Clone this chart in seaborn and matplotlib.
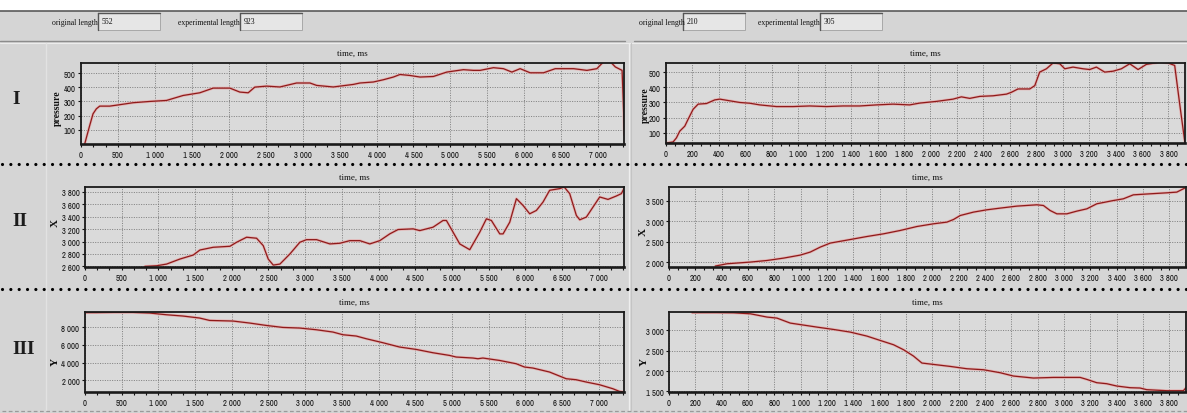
import matplotlib
matplotlib.use("Agg")
import numpy as np
import pandas as pd
import matplotlib.pyplot as plt
import matplotlib.patches as mpatches
import matplotlib.lines as mlines
from matplotlib.ticker import FixedLocator, AutoMinorLocator, FuncFormatter
from matplotlib import font_manager
import seaborn as sns

# ---------------- data ----------------
# row I : pressure, left recording (time in ms)
press_l_t = [50, 81, 118, 163, 208, 253, 389, 524, 705, 931, 1157, 1382, 1608, 1789,
             2015, 2150, 2263, 2353, 2512, 2692, 2918, 3099, 3190, 3415, 3686, 3776,
             3957, 4093, 4228, 4318, 4454, 4589, 4770, 4951, 5176, 5312, 5402, 5583,
             5718, 5832, 5944, 6080, 6261, 6419, 6668, 6848, 6983, 7073, 7165, 7233,
             7324, 7340, 7355]
press_l_v = [0, 60, 131, 213, 248, 267, 267, 277, 291, 300, 307, 342, 361, 394,
             394, 366, 361, 401, 408, 402, 430, 430, 413, 402, 420, 430,
             437, 453, 472, 490, 483, 472, 476, 507, 524, 519, 519, 538,
             531, 507, 531, 502, 502, 531, 531, 519, 531, 580, 580, 543,
             519, 300, 60]
# row I : pressure, right recording
press_r_t = [4, 54, 79, 104, 142, 167, 205, 243, 306, 369, 407, 482, 558, 634, 709,
             835, 961, 1087, 1214, 1339, 1465, 1592, 1717, 1843, 1919, 2045, 2171,
             2234, 2297, 2373, 2473, 2575, 2612, 2662, 2751, 2789, 2826, 2877, 2927,
             2978, 3016, 3078, 3154, 3204, 3255, 3318, 3381, 3444, 3507, 3570, 3633,
             3734, 3797, 3847, 3885, 3923]
press_r_v = [33, 40, 67, 111, 144, 189, 255, 289, 293, 317, 322, 311, 300, 295, 284,
             273, 273, 277, 273, 277, 277, 284, 289, 284, 296, 307, 322,
             337, 327, 340, 344, 355, 367, 389, 389, 411, 500, 522, 560,
             555, 522, 533, 522, 517, 533, 500, 506, 522, 555, 517, 551,
             565, 560, 544, 289, 44]
# row II : X coordinate
x_l_t = [816, 976, 1112, 1293, 1475, 1566, 1747, 1975, 2066, 2202, 2338, 2429, 2497,
         2565, 2656, 2792, 2928, 3019, 3155, 3337, 3473, 3609, 3745, 3881, 4017, 4153,
         4266, 4471, 4562, 4743, 4879, 4925, 5016, 5107, 5243, 5379, 5470, 5538, 5652,
         5697, 5788, 5879, 5969, 6060, 6151, 6242, 6332, 6469, 6530, 6605, 6696, 6742,
         6832, 6923, 7014, 7127, 7241, 7309, 7344]
x_l_v = [2600, 2610, 2637, 2718, 2783, 2864, 2908, 2924, 2989, 3070, 3054, 2934, 2718,
         2621, 2637, 2800, 2989, 3031, 3031, 2962, 2973, 3015, 3015, 2962, 3015, 3124,
         3194, 3205, 3177, 3232, 3340, 3340, 3151, 2962, 2869, 3151, 3367, 3340, 3124,
         3124, 3313, 3692, 3583, 3448, 3502, 3638, 3827, 3854, 3880, 3773, 3421, 3351,
         3395, 3557, 3719, 3680, 3735, 3773, 3854]
x_r_t = [352, 441, 618, 745, 871, 997, 1073, 1149, 1225, 1377, 1503, 1630, 1756, 1883,
         2009, 2111, 2161, 2212, 2313, 2414, 2515, 2642, 2794, 2844, 2895, 2946, 3022,
         3098, 3174, 3249, 3375, 3451, 3527, 3654, 3781, 3857, 3932]
x_r_v = [1903, 1959, 2000, 2039, 2097, 2170, 2244, 2365, 2463, 2550, 2623, 2689, 2770,
         2867, 2933, 2974, 3038, 3135, 3218, 3274, 3315, 3364, 3396, 3379, 3257, 3176,
         3176, 3242, 3298, 3420, 3500, 3542, 3639, 3664, 3688, 3705, 3827]
# row III : Y coordinate
y_l_t = [0, 150, 400, 654, 881, 1108, 1335, 1562, 1698, 2016, 2243, 2470, 2697, 2924,
         3151, 3378, 3514, 3696, 3833, 4060, 4287, 4514, 4741, 4968, 5058, 5286, 5354,
         5422, 5649, 5876, 5989, 6103, 6330, 6557, 6693, 6830, 7011, 7193, 7284, 7340]
y_l_v = [9620, 9620, 9640, 9640, 9573, 9382, 9236, 9011, 8742, 8674, 8449, 8180, 7955,
         7888, 7697, 7438, 7135, 6989, 6685, 6236, 5753, 5483, 5112, 4809, 4629, 4517,
         4438, 4517, 4247, 3876, 3506, 3393, 2944, 2191, 2079, 1820, 1517, 1067, 764, 720]
y_r_t = [175, 365, 491, 618, 745, 820, 921, 997, 1124, 1250, 1377, 1503, 1605, 1706,
         1782, 1857, 1921, 2009, 2136, 2262, 2389, 2515, 2616, 2768, 2920, 3123, 3174,
         3249, 3325, 3401, 3502, 3578, 3629, 3781, 3907, 3932]
y_r_v = [3440, 3440, 3435, 3411, 3330, 3305, 3182, 3145, 3083, 3025, 2960, 2862, 2754,
         2648, 2525, 2370, 2198, 2164, 2115, 2058, 2033, 1960, 1878, 1829, 1844, 1844,
         1795, 1714, 1689, 1632, 1591, 1583, 1542, 1517, 1517, 1608]

# tick values
xticks_l = list(range(0, 7001, 500))
xticks_r = list(range(0, 3801, 200))
yticks_press = [100, 200, 300, 400, 500]
yticks_x_l = [2600, 2800, 3000, 3200, 3400, 3600, 3800]
yticks_x_r = [2000, 2500, 3000, 3500]
yticks_y_l = [2000, 4000, 6000, 8000]
yticks_y_r = [1500, 2000, 2500, 3000]

orig_len = ["552", "210"]
exp_len = ["923", "305"]
row_names = ["I", "II", "III"]
ylabels = ["pressure", "X", "Y"]
###############################################################################

sns.set_theme(style="ticks")
names = {f.name for f in font_manager.fontManager.ttflist}
narrow = None
for cand in ["Liberation Sans Narrow", "Archivo Narrow", "Barlow Condensed"]:
    if cand in names:
        narrow = cand
        break
if narrow is None:
    plt.rcParams["font.family"] = ["DejaVu Sans"]
    plt.rcParams["font.stretch"] = "condensed"
else:
    plt.rcParams["font.family"] = [narrow, "DejaVu Sans"]
serif = "Liberation Serif"

W, H = 1187, 414
fig = plt.figure(figsize=(W / 100, H / 100), dpi=100)
fig.patch.set_facecolor("#d5d5d5")


def add_ax(l, t, r, b):
    return fig.add_axes([l / W, 1 - b / H, (r - l) / W, (b - t) / H])


def fline(x0, y0, x1, y1, **kw):
    fig.add_artist(mlines.Line2D([x0 / W, x1 / W], [1 - y0 / H, 1 - y1 / H],
                                 transform=fig.transFigure, **kw))


def fmt(v, pos):
    return f"{int(v):,}".replace(",", " ")


# top strip of the window
fig.add_artist(mpatches.Rectangle((0, 1 - 12 / H), 1, 12 / H, transform=fig.transFigure,
                                  facecolor="white", edgecolor="none"))
fline(0, 12, W, 12, color="#5a5a5a", lw=1.2)
fline(0, 42, 625, 42, color="#8c8c8c", lw=1.0)
fline(634, 42, W, 42, color="#8c8c8c", lw=1.0)
fline(0, 43.5, W, 43.5, color="#ececec", lw=0.8)
fline(629, 44, 629, 412, color="#eeeeee", lw=1.0)
fline(631, 44, 631, 412, color="#c4c4c4", lw=0.8)
fline(46, 44, 46, 412, color="#e2e2e2", lw=1.0)

for side, (x_text, x_box, x_text2, x_box2) in enumerate([(52, 98, 178, 240),
                                                           (639, 683, 758, 820)]):
    for xt, xb, lab, val in [(x_text, x_box, "original length", orig_len[side]),
                             (x_text2, x_box2, "experimental length", exp_len[side])]:
        fig.text(xt / W, 1 - 23 / H, lab, family=serif, fontsize=5.6, color="#111111",
                 ha="left", va="center")
        fig.add_artist(mpatches.Rectangle((xb / W, 1 - 31 / H), 62 / W, 17 / H,
                                          transform=fig.transFigure,
                                          facecolor="#e6e6e6", edgecolor="#a0a0a0", lw=0.6))
        fline(xb, 14, xb + 62, 14, color="#555555", lw=1.0)
        fline(xb, 14, xb, 31, color="#555555", lw=1.0)
        fig.text((xb + 4) / W, 1 - 22 / H, val, family=serif, fontsize=5.6,
                 color="#111111", ha="left", va="center")

# dotted separators between the rows
for yy in [165, 290]:
    fline(2, yy, W, yy, color="black", lw=2.3, linestyle=(0, (0.01, 2.6)),
          dash_capstyle="round")
fline(2, 412, W, 412, color="#9a9a9a", lw=0.9, linestyle=(0, (3, 2)))

panels = [
    # rect, t, v, xlim, ylim, xticks, yticks
    [(81, 64, 624, 145), press_l_t, press_l_v, (0, 7350), (0, 571), xticks_l, yticks_press],
    [(666, 64, 1185, 144), press_r_t, press_r_v, (0, 3925), (33, 560), xticks_r, yticks_press],
    [(85, 188, 624, 268), x_l_t, x_l_v, (0, 7345), (2590, 3880), xticks_l, yticks_x_l],
    [(669, 188, 1186, 268), x_r_t, x_r_v, (0, 3927), (1880, 3830), xticks_r, yticks_x_r],
    [(85, 313, 624, 393), y_l_t, y_l_v, (0, 7345), (700, 9690), xticks_l, yticks_y_l],
    [(669, 313, 1186, 393), y_r_t, y_r_v, (0, 3927), (1485, 3455), xticks_r, yticks_y_r],
]
ylabel_pos = [(57, 108), (645, 105), (55, 223), (643, 232), (55, 362), (644, 362)]

for i, (rect, t, v, xl, yl, xt, yt) in enumerate(panels):
    ax = add_ax(*rect)
    ax.set_facecolor("#dadada")
    df = pd.DataFrame({"time": t, "value": v})
    sns.lineplot(data=df, x="time", y="value", ax=ax, color="#e6aaaa", lw=2.0,
                 estimator=None, sort=False, alpha=0.8)
    sns.lineplot(data=df, x="time", y="value", ax=ax, color="#8e1a1a", lw=0.9,
                 estimator=None, sort=False)
    ax.set_xlim(*xl)
    ax.set_ylim(*yl)
    ax.xaxis.set_major_locator(FixedLocator(xt))
    ax.yaxis.set_major_locator(FixedLocator(yt))
    ax.xaxis.set_minor_locator(AutoMinorLocator(3))
    ax.xaxis.set_major_formatter(FuncFormatter(fmt))
    ax.yaxis.set_major_formatter(FuncFormatter(fmt))
    ax.tick_params(axis="both", which="both", direction="out", length=2.5, width=0.8,
                   colors="#111111", labelsize=6.2, pad=1.5)
    ax.grid(True, which="major", color="#777777", lw=0.6, linestyle=(0, (1.3, 1.6)))
    for s in ax.spines.values():
        s.set_color("#1a1a1a")
        s.set_linewidth(1.3)
    ax.spines["bottom"].set_linewidth(1.9)
    ax.set_xlabel("")
    ax.set_ylabel("")
    lx, ly = ylabel_pos[i]
    fig.text(lx / W, 1 - ly / H, ylabels[i // 2], family=serif, fontweight="bold",
             fontsize=7 if i < 2 else 8, rotation=90, ha="center", va="center",
             color="#111111")
    cx = (rect[0] + rect[2]) / 2
    ty = [54, 178, 303][i // 2]
    fig.text(cx / W, 1 - ty / H, "time, ms", family=serif, fontsize=6.5,
             ha="center", va="center", color="#111111")

for name, yy in zip(row_names, [100, 222, 350]):
    fig.text(12 / W, 1 - yy / H, name, family=serif, fontweight="bold", fontsize=14,
             ha="left", va="center", color="#1c1c1c")

fig.savefig("out.png", dpi=100, facecolor=fig.get_facecolor())
